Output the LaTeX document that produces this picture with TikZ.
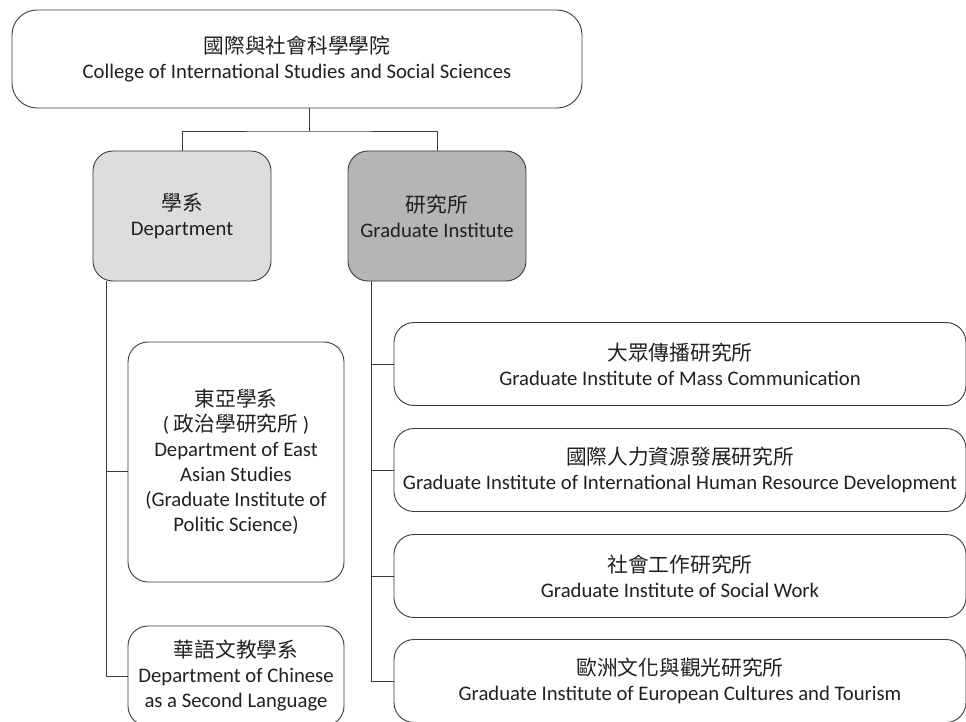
\documentclass[tikz,border=0pt]{standalone}
\usepackage{fontspec}
\setmainfont{Carlito}
\newfontfamily\cjk{Noto Sans CJK TC}
\definecolor{ln}{HTML}{3A3A3A}
\definecolor{tx}{HTML}{231F20}
\definecolor{deptfill}{HTML}{DCDDDD}
\definecolor{gradfill}{HTML}{B5B5B6}
\begin{document}
\begin{tikzpicture}[x=1pt,y=-1pt,
  box/.style={draw=ln, line width=0.9pt, rounded corners=20pt, align=center, text=tx,
    font=\fontsize{20.7}{25}\selectfont, inner sep=0pt},
  conn/.style={draw=ln, line width=0.9pt}]
\useasboundingbox (0,0) rectangle (966,722);
\node[box, rounded corners=25pt, minimum width=570pt, minimum height=98pt] (top) at (297,59)
  {{\cjk 國際與社會科學學院}\\College of International Studies and Social Sciences};
\node[box, fill=deptfill, minimum width=178pt, minimum height=130pt] (dept) at (182,216)
  {{\cjk 學系}\\Department};
\node[box, fill=gradfill, minimum width=178pt, minimum height=130pt] (grad) at (437,216)
  {{\cjk 研究所}\\Graduate Institute};
\node[box, minimum width=216pt, minimum height=240pt] (eas) at (236,462)
  {{\cjk 東亞學系}\\( {\cjk 政治學研究所} )\\Department of East\\Asian Studies\\(Graduate Institute of\\Politic Science)};
\node[box, minimum width=216pt, minimum height=100pt] (tcsl) at (236,676)
  {{\cjk 華語文教學系}\\Department of Chinese\\as a Second Language};
\node[box, minimum width=572pt, minimum height=83pt] (g1) at (680,364)
  {{\cjk 大眾傳播研究所}\\Graduate Institute of Mass Communication};
\node[box, minimum width=572pt, minimum height=83pt] (g2) at (680,470)
  {{\cjk 國際人力資源發展研究所}\\Graduate Institute of International Human Resource Development};
\node[box, minimum width=572pt, minimum height=83pt] (g3) at (680,576)
  {{\cjk 社會工作研究所}\\Graduate Institute of Social Work};
\node[box, minimum width=572pt, minimum height=83pt] (g4) at (680,681)
  {{\cjk 歐洲文化與觀光研究所}\\Graduate Institute of European Cultures and Tourism};
% connectors
\coordinate (j) at (309,131);
\coordinate (lb) at (106,0);
\coordinate (eb) at (106,471);
\coordinate (rb) at (371,0);
\draw[conn] (top.south -| j) -- (j);
\draw[conn] (dept.north) |- (j) -| (grad.north);
\draw[conn] (dept.south -| lb) |- (tcsl.west);
\draw[conn] (eb) -- (eb -| eas.west);
\draw[conn] (grad.south -| rb) |- (g4.west);
\draw[conn] (rb |- g1.west) -- (g1.west);
\draw[conn] (rb |- g2.west) -- (g2.west);
\draw[conn] (rb |- g3.west) -- (g3.west);
\end{tikzpicture}
\end{document}
